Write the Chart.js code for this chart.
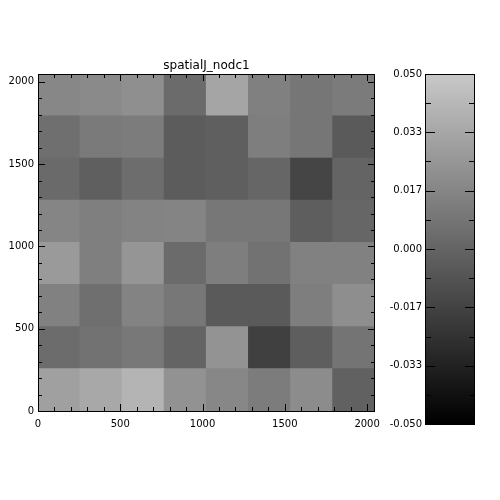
<!DOCTYPE html>
<html>
<head>
<meta charset="utf-8">
<script src="https://cdn.jsdelivr.net/npm/chart.js@4"></script>
<style>
  html, body { margin: 0; padding: 0; background: #fff; }
  .wrap { position: relative; width: 500px; height: 500px; }
  .wrap canvas { position: absolute; left: 0; top: 0; }
</style>
</head>
<body>
<div class="wrap">
  <canvas id="map" width="500" height="500"></canvas>
  <canvas id="cbar" width="500" height="500"></canvas>
</div>
<script>
/* ── Data ── */
const title    = 'spatialJ_nodc1';
const xBins    = [0, 256, 512, 768, 1024, 1280, 1536, 1792, 2048];
const yBins    = [0, 256, 512, 768, 1024, 1280, 1536, 1792, 2048];
const xTicks   = [0, 500, 1000, 1500, 2000];
const yTicks   = [0, 500, 1000, 1500, 2000];
const cbTicks  = [-0.05, -0.0333, -0.0167, 0, 0.0167, 0.0333, 0.05];
const cbMin    = -0.05;
const cbMax    = 0.05;

// one array per row, bottom row first, left to right
const row0 = [0.030, 0.034, 0.040, 0.023, 0.0175, 0.012, 0.020, -0.0015];
const row1 = [0.004, 0.007, 0.010, 0.000, 0.0235, -0.018, -0.003, 0.008];
const row2 = [0.0145, 0.0055, 0.0155, 0.0095, -0.005, -0.005, 0.013, 0.021];
const row3 = [0.027, 0.0135, 0.0245, 0.0035, 0.013, 0.007, 0.0145, 0.0145];
const row4 = [0.0165, 0.0135, 0.0155, 0.016, 0.0095, 0.0095, -0.003, 0.001];
const row5 = [0.003, -0.0025, 0.0045, -0.004, -0.0025, 0.001, -0.0155, 0.000];
const row6 = [0.0055, 0.011, 0.012, -0.004, -0.0025, 0.013, 0.009, -0.005];
const row7 = [0.0175, 0.019, 0.0215, 0.0035, 0.0325, 0.014, 0.009, 0.0115];
const rows = [row0, row1, row2, row3, row4, row5, row6, row7];

/* ── Helpers ── */
const TOP_GRAY = 200;
function grayFor(v) {
  const t = Math.max(0, Math.min(1, (v - cbMin) / (cbMax - cbMin)));
  const g = Math.round(t * TOP_GRAY);
  return `rgb(${g},${g},${g})`;
}

const FONT = { family: 'DejaVu Sans', size: 10 };

function drawTicks(ctx, scale, values, len, sides, area) {
  ctx.beginPath();
  values.forEach(v => {
    const p = Math.round(scale.getPixelForValue(v)) + 0.5;
    if (scale.isHorizontal()) {
      if (sides.includes('bottom')) { ctx.moveTo(p, area.bottom); ctx.lineTo(p, area.bottom - len); }
      if (sides.includes('top'))    { ctx.moveTo(p, area.top);    ctx.lineTo(p, area.top + len); }
    } else {
      if (sides.includes('left'))   { ctx.moveTo(area.left, p);  ctx.lineTo(area.left + len, p); }
      if (sides.includes('right'))  { ctx.moveTo(area.right, p); ctx.lineTo(area.right - len, p); }
    }
  });
  ctx.stroke();
}

function frame(ctx, a) {
  ctx.strokeRect(Math.round(a.left) + 0.5, Math.round(a.top) + 0.5,
                 Math.round(a.right - a.left) - 1, Math.round(a.bottom - a.top));
}

/* ── Heat map ── */
const datasets = rows.map((row, j) => ({
  data: row.map((v, i) => ({ x: (xBins[i] + xBins[i + 1]) / 2, y: [yBins[j], yBins[j + 1]], v })),
  backgroundColor: row.map(grayFor),
  borderWidth: 0,
  inflateAmount: 0.6,
  barPercentage: 1,
  categoryPercentage: 1,
  grouped: false,
}));

const mapFrame = {
  id: 'mapFrame',
  afterDraw(chart) {
    const { ctx, chartArea: a, scales: { x, y } } = chart;
    ctx.save();
    ctx.strokeStyle = '#000';
    ctx.lineWidth = 1;
    frame(ctx, a);
    const minor = [];
    for (let v = 0; v <= 2000; v += 100) if (v % 500) minor.push(v);
    drawTicks(ctx, x, xTicks, 7, ['bottom', 'top'], a);
    drawTicks(ctx, x, minor, 4, ['bottom', 'top'], a);
    drawTicks(ctx, y, yTicks, 7, ['left', 'right'], a);
    drawTicks(ctx, y, minor, 4, ['left', 'right'], a);
    ctx.fillStyle = '#000';
    ctx.font = '12px "DejaVu Sans"';
    ctx.textAlign = 'center';
    ctx.textBaseline = 'alphabetic';
    ctx.fillText(title, (a.left + a.right) / 2, a.top - 5);
    ctx.restore();
  },
};

new Chart(document.getElementById('map'), {
  type: 'bar',
  data: { datasets },
  options: {
    responsive: false,
    animation: false,
    devicePixelRatio: 1,
    layout: { padding: { top: 74, right: 125, bottom: 0, left: 0 } },
    plugins: { legend: { display: false }, tooltip: { enabled: false } },
    scales: {
      x: {
        type: 'linear', min: 0, max: 2048, offset: false,
        grid: { display: false, drawTicks: false },
        border: { display: false },
        afterBuildTicks: s => { s.ticks = xTicks.map(v => ({ value: v })); },
        afterFit: s => { s.height = 89; },
        ticks: { color: '#000', font: FONT, padding: 7, maxRotation: 0, autoSkip: false,
                 callback: v => String(v) },
      },
      y: {
        type: 'linear', min: 0, max: 2048,
        grid: { display: false, drawTicks: false },
        border: { display: false },
        afterBuildTicks: s => { s.ticks = yTicks.map(v => ({ value: v })); },
        afterFit: s => { s.width = 38; },
        ticks: { color: '#000', font: FONT, padding: 4, autoSkip: false,
                 callback: v => String(v) },
      },
    },
  },
  plugins: [mapFrame],
});

/* ── Colour bar ── */
const cbFrame = {
  id: 'cbFrame',
  afterDraw(chart) {
    const { ctx, chartArea: a, scales: { y } } = chart;
    ctx.save();
    ctx.strokeStyle = '#000';
    ctx.lineWidth = 1;
    frame(ctx, a);
    const minor = [];
    for (let i = 0; i < cbTicks.length - 1; i++) minor.push((cbTicks[i] + cbTicks[i + 1]) / 2);
    drawTicks(ctx, y, cbTicks, 10, ['left', 'right'], a);
    drawTicks(ctx, y, minor, 6, ['left', 'right'], a);
    ctx.restore();
  },
};

new Chart(document.getElementById('cbar'), {
  type: 'bar',
  data: {
    labels: [''],
    datasets: [{
      data: [[cbMin, cbMax]],
      backgroundColor: c => {
        const { chart } = c;
        const ys = chart.scales.y;
        if (!chart.chartArea || !ys) return grayFor(0);
        const g = chart.ctx.createLinearGradient(0, ys.getPixelForValue(cbMin), 0, ys.getPixelForValue(cbMax));
        g.addColorStop(0, grayFor(cbMin));
        g.addColorStop(1, grayFor(cbMax));
        return g;
      },
      borderWidth: 0,
      barPercentage: 1,
      categoryPercentage: 1,
    }],
  },
  options: {
    responsive: false,
    animation: false,
    devicePixelRatio: 1,
    layout: { padding: { top: 74, right: 25, bottom: 76, left: 0 } },
    plugins: { legend: { display: false }, tooltip: { enabled: false } },
    scales: {
      x: { display: false },
      y: {
        min: cbMin, max: cbMax,
        grid: { display: false, drawTicks: false },
        border: { display: false },
        afterBuildTicks: s => { s.ticks = cbTicks.map(v => ({ value: v })); },
        afterFit: s => { s.width = 425; },
        ticks: { color: '#000', font: FONT, padding: 3, autoSkip: false,
                 callback: v => v.toFixed(3) },
      },
    },
  },
  plugins: [cbFrame],
});
</script>
</body>
</html>
